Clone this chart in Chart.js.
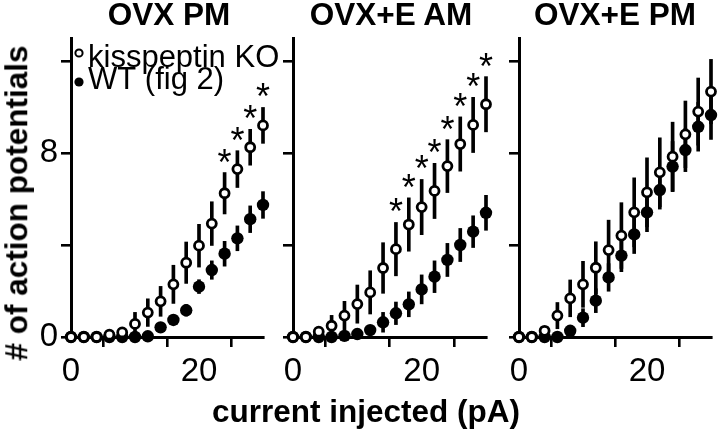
<!DOCTYPE html>
<html>
<head>
<meta charset="utf-8">
<script src="https://cdn.jsdelivr.net/npm/chart.js@4.4.1/dist/chart.umd.min.js"></script>
<style>
html, body { margin: 0; padding: 0; background: #fff; }
#wrap { position: relative; width: 720px; height: 430px; overflow: hidden; font-family: "Liberation Sans", Arial, sans-serif; color: #000; }
canvas { position: absolute; top: 0; }
.t { position: absolute; font-weight: bold; white-space: nowrap; line-height: 1; font-size: 31.5px; }
</style>
</head>
<body>
<div id="wrap">
  <canvas id="c1" width="300" height="430" style="left:1px"></canvas>
  <canvas id="c2" width="272" height="430" style="left:223px"></canvas>
  <canvas id="c3" width="271" height="430" style="left:449px"></canvas>
  <div class="t" style="left:169px; top:-1px; transform:translateX(-50%);">OVX PM</div>
  <div class="t" style="left:391px; top:-1px; transform:translateX(-50%);">OVX+E AM</div>
  <div class="t" style="left:615px; top:-1px; transform:translateX(-50%);">OVX+E PM</div>
  <div class="t" style="left:366px; top:396px; transform:translateX(-50%);">current injected (pA)</div>
  <div class="t" style="left:17px; top:203px; transform:translate(-50%,-50%) rotate(-90deg);"># of action potentials</div>
</div>
<script>
// ---- data ----
const currents = [0, 2, 4, 6, 8, 10, 12, 14, 16, 18, 20, 22, 24, 26, 28, 30];

const ovxPmKO     = [0, 0, 0, 0.1, 0.2, 0.57, 1.06, 1.55, 2.29, 3.23, 3.97, 4.93, 6.25, 7.3, 8.25, 9.2];
const ovxPmKOsem  = [0, 0, 0, 0.05, 0.15, 0.5, 0.6, 0.65, 0.83, 0.9, 0.93, 0.95, 0.9, 0.8, 0.78, 0.78];
const ovxPmWT     = [0, 0, 0, 0, 0, 0, 0.03, 0.42, 0.74, 1.16, 2.19, 2.91, 3.62, 4.29, 5.12, 5.74];
const ovxPmWTsem  = [0, 0, 0, 0, 0, 0, 0.05, 0.15, 0.2, 0.25, 0.3, 0.4, 0.54, 0.54, 0.58, 0.58];
const ovxPmSig    = [24, 26, 28, 30];

const ovxEAmKO    = [0, 0, 0.23, 0.49, 0.93, 1.43, 1.94, 3.0, 3.82, 4.89, 5.65, 6.35, 7.43, 8.39, 9.22, 10.12];
const ovxEAmKOsem = [0, 0, 0.2, 0.45, 0.62, 0.83, 0.94, 1.1, 1.16, 1.16, 1.2, 1.2, 1.15, 1.18, 1.2, 1.2];
const ovxEAmWT    = [0, 0, 0, 0, 0.05, 0.13, 0.3, 0.64, 1.03, 1.42, 2.07, 2.62, 3.35, 4.0, 4.58, 5.4];
const ovxEAmWTsem = [0, 0, 0, 0, 0.05, 0.1, 0.2, 0.43, 0.49, 0.54, 0.63, 0.69, 0.72, 0.72, 0.69, 0.76];
const ovxEAmSig   = [16, 18, 20, 22, 24, 26, 28, 30];

const ovxEPmKO    = [0, 0, 0.27, 0.93, 1.68, 2.29, 3.01, 3.78, 4.41, 5.42, 6.29, 7.16, 7.84, 8.81, 9.8, 10.67];
const ovxEPmKOsem = [0, 0, 0.15, 0.57, 0.8, 1.0, 1.13, 1.3, 1.43, 1.5, 1.5, 1.5, 1.5, 1.45, 1.46, 1.4];
const ovxEPmWT    = [0, 0, 0, 0, 0.27, 0.84, 1.58, 2.59, 3.54, 4.46, 5.42, 6.39, 7.41, 8.13, 9.14, 9.65];
const ovxEPmWTsem = [0, 0, 0, 0, 0.1, 0.39, 0.52, 0.6, 0.7, 0.83, 0.84, 0.83, 1.09, 0.94, 1.06, 1.06];
const ovxEPmSig   = [];

const xTicks = [0, 10, 20, 30];
const xTickLabels = ['0', '', '20', ''];
const yTicks = [0, 4, 8, 12];
const yTickLabels = ['0', '', '8', ''];
const yMax = 13;
const seriesNames = ['kisspeptin KO', 'WT (fig 2)'];

// ---- drawing ----
const FONT = '"Liberation Sans", Arial, sans-serif';

const starPlugin = {
  id: 'stars',
  afterDatasetsDraw(chart, args, opts) {
    if (!opts.sig || !opts.sig.length) return;
    const { ctx } = chart;
    const xs = chart.scales.x, ys = chart.scales.y;
    ctx.save();
    ctx.fillStyle = '#000';
    ctx.font = '36px ' + FONT;
    ctx.textAlign = 'center';
    ctx.textBaseline = 'alphabetic';
    opts.sig.forEach(xv => {
      const i = currents.indexOf(xv);
      const top = ys.getPixelForValue(opts.mean[i] + opts.err[i]);
      ctx.fillText('*', xs.getPixelForValue(xv), top + opts.dy);
    });
    ctx.restore();
  }
};

const legendPlugin = {
  id: 'miniLegend',
  afterDraw(chart, args, opts) {
    if (!opts.show) return;
    const { ctx, chartArea } = chart;
    const ds = chart.data.datasets.filter(d => d.type === 'scatter');
    ctx.save();
    ctx.font = '31px ' + FONT;
    ctx.textBaseline = 'alphabetic';
    ctx.textAlign = 'left';
    ds.forEach((d, k) => {
      const cy = chartArea.top + opts.markerY[k];
      const cx = chartArea.left + opts.markerX;
      ctx.beginPath();
      ctx.arc(cx, cy, opts.radius[k], 0, Math.PI * 2);
      ctx.fillStyle = d.backgroundColor;
      ctx.fill();
      if (d.borderWidth > 0) {
        ctx.lineWidth = 2;
        ctx.strokeStyle = d.borderColor;
        ctx.stroke();
      }
      ctx.fillStyle = '#000';
      ctx.fillText(d.label, chartArea.left + opts.textX, chartArea.top + opts.textY[k]);
    });
    ctx.restore();
  }
};

function errBars(mean, err) {
  return currents.map((x, i) => ({ x: x, y: [mean[i] - err[i], mean[i] + err[i]] }));
}
function pts(mean) {
  return currents.map((x, i) => ({ x: x, y: mean[i] }));
}

function makePanel(id, ko, koErr, wt, wtErr, sig, showYLabels, showLegend, padRight) {
  const ctx = document.getElementById(id).getContext('2d');
  return new Chart(ctx, {
    type: 'scatter',
    data: {
      datasets: [
        { type: 'scatter', label: seriesNames[0], data: pts(ko), order: 0, clip: false,
          pointStyle: 'circle', pointRadius: 4.5, backgroundColor: '#ffffff', borderColor: '#000000', borderWidth: 2.8 },
        { type: 'scatter', label: seriesNames[1], data: pts(wt), order: 1, clip: false,
          pointStyle: 'circle', pointRadius: 6.2, backgroundColor: '#000000', borderColor: '#000000', borderWidth: 0 },
        { type: 'bar', label: 'KO sem', data: errBars(ko, koErr), order: 2, clip: false,
          grouped: false, barThickness: 3, backgroundColor: '#000000', borderWidth: 0 },
        { type: 'bar', label: 'WT sem', data: errBars(wt, wtErr), order: 3, clip: false,
          grouped: false, barThickness: 3, backgroundColor: '#000000', borderWidth: 0 }
      ]
    },
    options: {
      responsive: false,
      animation: false,
      devicePixelRatio: 1,
      events: [],
      layout: { padding: { left: 0, right: padRight, top: 38, bottom: 0 } },
      plugins: {
        legend: { display: false },
        tooltip: { enabled: false },
        title: { display: false },
        stars: { sig: sig, mean: ko, err: koErr, dy: 2 },
        miniLegend: { show: showLegend, markerX: 8, markerY: [15, 44], radius: [3.6, 4.6], textX: 17, textY: [29, 51] }
      },
      scales: {
        x: {
          type: 'linear', min: 0, max: 30, offset: false,
          afterBuildTicks: s => { s.ticks = xTicks.map(v => ({ value: v })); },
          afterFit: s => { s.height = 93; },
          ticks: { color: '#000', font: { family: FONT, size: 33 }, padding: 5, maxRotation: 0, autoSkip: false,
                   callback: (v, i) => xTickLabels[i] },
          grid: { display: true, drawOnChartArea: false, drawTicks: true, tickLength: 10, color: '#000', lineWidth: 2.6 },
          border: { display: true, color: '#000', width: 3 }
        },
        y: {
          type: 'linear', min: 0, max: yMax,
          afterBuildTicks: s => { s.ticks = yTicks.map(v => ({ value: v })); },
          afterFit: s => { s.width = 70; },
          ticks: { color: '#000', font: { family: FONT, size: 33 }, padding: 3, autoSkip: false,
                   callback: (v, i) => showYLabels ? yTickLabels[i] : '' },
          grid: { display: true, drawOnChartArea: false, drawTicks: true, tickLength: 10, color: '#000', lineWidth: 2.6 },
          border: { display: true, color: '#000', width: 3 }
        }
      }
    },
    plugins: [starPlugin, legendPlugin]
  });
}

makePanel('c1', ovxPmKO, ovxPmKOsem, ovxPmWT, ovxPmWTsem, ovxPmSig, true, true, 38);
makePanel('c2', ovxEAmKO, ovxEAmKOsem, ovxEAmWT, ovxEAmWTsem, ovxEAmSig, false, false, 9);
makePanel('c3', ovxEPmKO, ovxEPmKOsem, ovxEPmWT, ovxEPmWTsem, ovxEPmSig, false, false, 9);
</script>
</body>
</html>
